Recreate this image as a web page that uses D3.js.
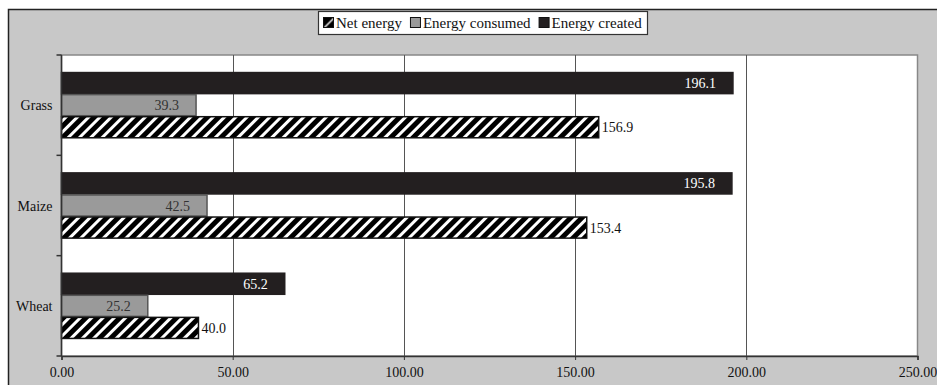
<!DOCTYPE html>
<html><head><meta charset="utf-8">
<script src="https://cdn.jsdelivr.net/npm/d3@7"></script>
<style>html,body{margin:0;padding:0;background:#fff;}</style>
</head>
<body><svg id="c" width="937" height="385"></svg>
<script>
const categories = ["Grass", "Maize", "Wheat"];
const seriesNames = ["Energy created", "Energy consumed", "Net energy"];
const energyCreated = [196.1, 195.8, 65.2];
const energyConsumed = [39.3, 42.5, 25.2];
const netEnergy = [156.9, 153.4, 40.0];
const xTicks = [0, 50, 100, 150, 200, 250];
const legendOrder = ["Net energy", "Energy consumed", "Energy created"];

const FONT = "Liberation Serif";
const svg = d3.select("#c").attr("font-family", FONT);
const W = 937, H = 385;
const plot = {l: 61.5, r: 917.5, t: 55, b: 356};

const defs = svg.append("defs");
const pat = defs.append("pattern").attr("id","hatch").attr("patternUnits","userSpaceOnUse")
  .attr("width",8).attr("height",8).attr("patternTransform","rotate(45)");
pat.append("rect").attr("width",8).attr("height",8).attr("fill","#000");
pat.append("rect").attr("x",0).attr("width",3).attr("height",8).attr("fill","#fff");

svg.append("rect").attr("x",8.5).attr("y",9.5).attr("width",W).attr("height",H)
  .attr("fill","#c8c8c8").attr("stroke","#222").attr("stroke-width",1.5);

svg.append("rect").attr("x",plot.l).attr("y",plot.t).attr("width",plot.r-plot.l).attr("height",plot.b-plot.t)
  .attr("fill","#fff").attr("stroke","#888").attr("stroke-width",1.5);

const x = d3.scaleLinear().domain([0,250]).range([plot.l, plot.r]);
const y = d3.scaleBand().domain(categories).range([plot.t, plot.b]).paddingInner(0.34).paddingOuter(0.17);
const sub = d3.scaleBand().domain(seriesNames).range([0, y.bandwidth()]);

svg.append("g").selectAll("line").data(xTicks.slice(1,-1)).join("line")
  .attr("x1",d=>Math.round(x(d))+0.5).attr("x2",d=>Math.round(x(d))+0.5)
  .attr("y1",plot.t).attr("y2",plot.b).attr("stroke","#555").attr("stroke-width",1);

const data = [];
categories.forEach((c,i)=>{
  data.push({cat:c, s:"Energy created", v:energyCreated[i]});
  data.push({cat:c, s:"Energy consumed", v:energyConsumed[i]});
  data.push({cat:c, s:"Net energy", v:netEnergy[i]});
});
const fills = {"Energy created":"#231f20","Energy consumed":"#9a9a9a","Net energy":"url(#hatch)"};
const strokes = {"Energy created":"#231f20","Energy consumed":"#555","Net energy":"#111"};

svg.append("g").selectAll("rect").data(data).join("rect")
  .attr("x",x(0)).attr("y",d=>y(d.cat)+sub(d.s)+0.5)
  .attr("width",d=>x(d.v)-x(0)).attr("height",sub.bandwidth()-1)
  .attr("fill",d=>fills[d.s]).attr("stroke",d=>strokes[d.s]).attr("stroke-width",1.5);

svg.append("g").selectAll("text").data(data).join("text")
  .attr("font-family",FONT)
  .attr("x",d=> d.s==="Net energy" ? x(d.v)+3 : x(d.v)-17)
  .attr("y",d=>y(d.cat)+sub(d.s)+sub.bandwidth()/2)
  .attr("dy","0.36em")
  .attr("text-anchor",d=> d.s==="Net energy" ? "start":"end")
  .attr("font-size",14)
  .attr("fill",d=> d.s==="Energy created" ? "#fff" : (d.s==="Energy consumed" ? "#333" : "#111"))
  .text(d=>d3.format(".1f")(d.v));

const xa = svg.append("g").attr("transform",`translate(0,${plot.b})`)
  .call(d3.axisBottom(x).tickValues(xTicks).tickFormat(d3.format(".2f")).tickSize(4).tickPadding(7));
xa.attr("font-family",FONT).attr("font-size",14);
xa.select(".domain").attr("stroke","#333").attr("stroke-width",1.5);
xa.selectAll(".tick line").attr("stroke","#333");
xa.selectAll("text").attr("font-family",FONT).attr("font-size",14).attr("fill","#111");

const ya = svg.append("g").attr("transform",`translate(${plot.l},0)`);
ya.append("line").attr("x1",0).attr("x2",0).attr("y1",plot.t).attr("y2",plot.b).attr("stroke","#333").attr("stroke-width",1.5);
const yb = d3.range(categories.length+1).map(i=>plot.t + i*(plot.b-plot.t)/categories.length);
ya.selectAll("line.t").data(yb).join("line").attr("class","t")
  .attr("x1",-5).attr("x2",0).attr("y1",d=>d).attr("y2",d=>d).attr("stroke","#333").attr("stroke-width",1.5);
ya.selectAll("text").data(categories).join("text")
  .attr("font-family",FONT)
  .attr("x",-9).attr("y",d=>y(d)+y.bandwidth()/2).attr("dy","0.36em")
  .attr("text-anchor","end").attr("font-size",14).attr("fill","#111").text(d=>d);

const lg = svg.append("g");
lg.append("rect").attr("x",318.5).attr("y",11.5).attr("width",329).attr("height",23)
  .attr("fill","#fff").attr("stroke","#333").attr("stroke-width",1.2);
const lfill = {"Net energy":"url(#hatchS)","Energy consumed":"#9a9a9a","Energy created":"#231f20"};
const pat2 = defs.append("pattern").attr("id","hatchS").attr("patternUnits","objectBoundingBox")
  .attr("width",1).attr("height",1);
pat2.append("rect").attr("width",10).attr("height",10).attr("fill","#000");
pat2.append("path").attr("d","M10,0 L10,10 L0,10 Z").attr("fill","#fff");
pat2.append("path").attr("d","M10,2 L10,10 L2,10 Z").attr("fill","#000");
let lx = 323;
legendOrder.forEach((n,i)=>{
  lg.append("rect").attr("x",lx+0.5).attr("y",17.5).attr("width",10).attr("height",10)
    .attr("fill",lfill[n]).attr("stroke","#111").attr("stroke-width",1);
  const t = lg.append("text").attr("font-family",FONT).attr("x",lx+13).attr("y",23).attr("dy","0.36em")
    .attr("font-size",15).attr("fill","#111").text(n);
  lx += 13 + t.node().getComputedTextLength() + 8;
});
</script></body></html>
